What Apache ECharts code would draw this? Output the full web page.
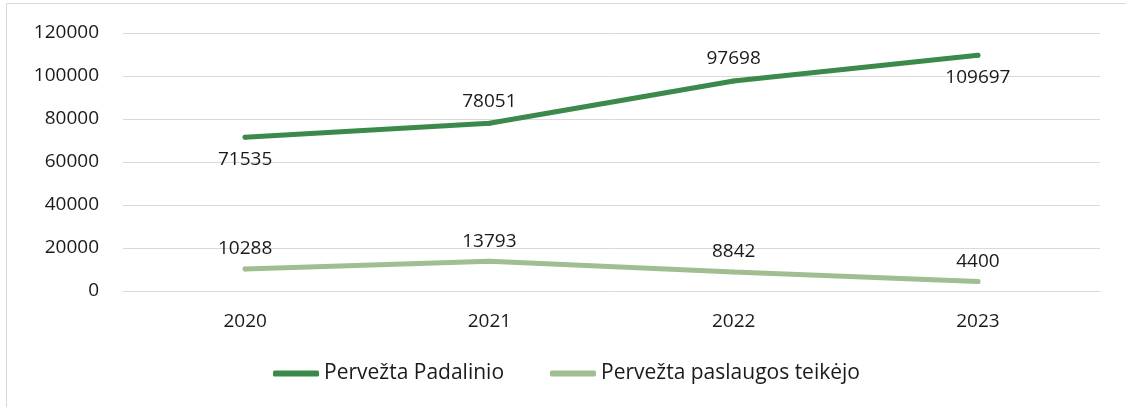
<!DOCTYPE html>
<html>
<head>
<meta charset="utf-8">
<script src="https://cdn.jsdelivr.net/npm/echarts@6/dist/echarts.min.js"></script>
<style>
  html, body { margin: 0; padding: 0; background: #fff; }
  #chart { box-sizing: border-box; border-left: 1px solid #d9d9d9; border-top: 1px solid #d9d9d9; margin-left: 6px; margin-top: 3px; }
</style>
</head>
<body>
<div id="chart" style="width:1120px;height:404px"></div>
<script>
var years = ['2020', '2021', '2022', '2023']
var padalinio = [71535, 78051, 97698, 109697]
var teikejo = [10288, 13793, 8842, 4400]
var padalinioPos = ['bottom', 'top', 'top', 'bottom']
var yTicks = { min: 0, max: 120000, interval: 20000 }

var font = '"Open Sans", sans-serif'
var chart = echarts.init(document.getElementById('chart'))

var option = {
  animation: false,
  textStyle: { fontFamily: font },
  grid: { left: 116, right: 26, top: 29, bottom: 116 },
  legend: {
    bottom: 18,
    left: 'center',
    itemWidth: 46,
    itemHeight: 6,
    itemGap: 46,
    icon: 'roundRect',
    textStyle: { fontSize: 21, color: '#1a1a1a', fontFamily: font },
    data: ['Pervežta Padalinio', 'Pervežta paslaugos teikėjo']
  },
  xAxis: {
    type: 'category',
    data: years,
    boundaryGap: true,
    axisLine: { lineStyle: { color: '#d9d9d9', width: 1 } },
    axisTick: { show: false },
    axisLabel: { fontSize: 19, color: '#1a1a1a', margin: 21, fontFamily: font }
  },
  yAxis: {
    type: 'value',
    min: yTicks.min,
    max: yTicks.max,
    interval: yTicks.interval,
    axisLine: { show: false },
    axisTick: { show: false },
    axisLabel: { fontSize: 19, color: '#1a1a1a', margin: 24, fontFamily: font, formatter: function (v) { return String(v) } },
    splitLine: { lineStyle: { color: '#d9d9d9', width: 1 } }
  },
  series: [
    {
      name: 'Pervežta Padalinio',
      type: 'line',
      data: padalinio.map(function (v, i) {
        return { value: v, label: { position: padalinioPos[i] } }
      }),
      symbol: 'circle',
      symbolSize: 5,
      lineStyle: { color: '#3b8a4c', width: 5, cap: 'round' },
      itemStyle: { color: '#3b8a4c' },
      label: { show: true, fontSize: 19, color: '#1a1a1a', distance: 10, fontFamily: font }
    },
    {
      name: 'Pervežta paslaugos teikėjo',
      type: 'line',
      data: teikejo,
      symbol: 'circle',
      symbolSize: 5,
      lineStyle: { color: '#a0be92', width: 5, cap: 'round' },
      itemStyle: { color: '#a0be92' },
      label: { show: true, position: 'top', fontSize: 19, color: '#1a1a1a', distance: 8, fontFamily: font }
    }
  ]
}
chart.setOption(option)
</script>
</body>
</html>
